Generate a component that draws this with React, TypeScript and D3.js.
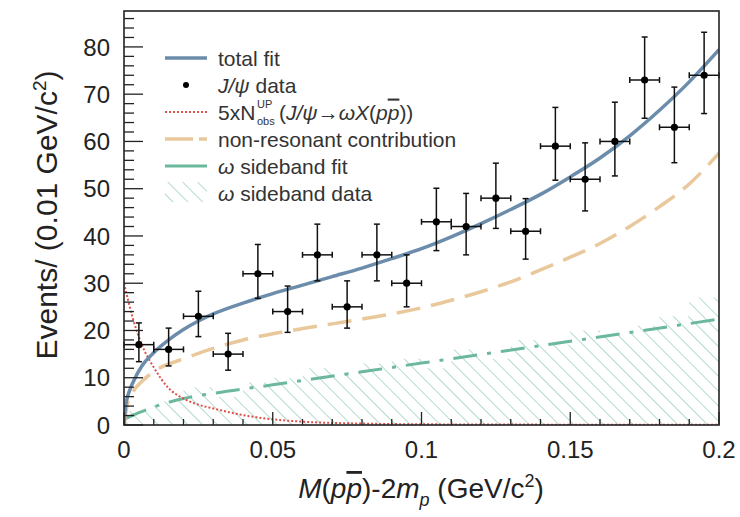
import React from "react";
import * as d3 from "d3";

// ---------- data ----------
const binCenters = [0.005, 0.015, 0.025, 0.035, 0.045, 0.055, 0.065, 0.075, 0.085, 0.095, 0.105, 0.115, 0.125, 0.135, 0.145, 0.155, 0.165, 0.175, 0.185, 0.195];
const binHalfWidth = 0.005;
const counts = [17, 16, 23, 15, 32, 24, 36, 25, 36, 30, 43, 42, 48, 41, 59, 52, 60, 73, 63, 74];
const errUp = [4.6, 4.5, 5.3, 4.4, 6.2, 5.4, 6.5, 5.5, 6.5, 6.0, 7.1, 7.0, 7.4, 6.9, 8.2, 7.7, 8.3, 9.1, 8.5, 9.1];
const errDown = [3.6, 3.5, 4.3, 3.4, 5.2, 4.4, 5.5, 4.5, 5.5, 5.0, 6.1, 6.0, 6.4, 5.9, 7.2, 6.7, 7.3, 8.1, 7.5, 8.1];
const sidebandCounts = [3, 5, 8, 6, 9, 10, 12, 11, 13, 14, 12, 16, 14, 18, 17, 20, 19, 21, 23, 27];

const totalFitX = [0, 0.0005, 0.001, 0.002, 0.003, 0.006, 0.01, 0.015, 0.02, 0.025, 0.03, 0.04, 0.05, 0.06, 0.07, 0.08, 0.09, 0.1, 0.11, 0.12, 0.13, 0.14, 0.15, 0.16, 0.17, 0.18, 0.19, 0.2];
const totalFitY = [0, 3.8, 5.5, 7.5, 9, 12.5, 15.3, 18, 20.2, 22, 23.5, 25.8, 27.8, 29.6, 31.4, 33.2, 35.2, 37.3, 39.8, 42.6, 45.6, 48.8, 52.5, 56.5, 61.2, 66.6, 72.6, 79.4];

const nonResX = [0, 0.001, 0.003, 0.006, 0.01, 0.02, 0.03, 0.04, 0.05, 0.06, 0.07, 0.08, 0.09, 0.1, 0.11, 0.12, 0.13, 0.14, 0.15, 0.16, 0.17, 0.18, 0.19, 0.2];
const nonResY = [0, 4, 7, 9.2, 11.3, 14, 16.2, 18, 19.3, 20.4, 21.4, 22.4, 23.5, 24.8, 26.4, 28.2, 30.3, 32.8, 35.5, 38.4, 42, 46.2, 51, 57.5];

const upperLimitX = [0, 0.003, 0.006, 0.01, 0.015, 0.02, 0.025, 0.03, 0.04, 0.05, 0.06, 0.08, 0.1, 0.15, 0.2];
const upperLimitY = [30, 22.5, 17, 12.2, 7.8, 5.6, 4.3, 3.5, 2.1, 1.2, 0.7, 0.3, 0.15, 0.07, 0.05];

const sidebandFitX = [0, 0.005, 0.01, 0.02, 0.03, 0.05, 0.1, 0.15, 0.2];
const sidebandFitY = [1.2, 2.6, 3.8, 5.6, 6.7, 8.5, 13.1, 17.7, 22.4];

const xTicksMajor = [0, 0.05, 0.1, 0.15, 0.2];
const xTickLabels = ["0", "0.05", "0.1", "0.15", "0.2"];
const yTicksMajor = [0, 10, 20, 30, 40, 50, 60, 70, 80];

// ---------- layout ----------
const W = 740;
const H = 517;
const L = 124, R = 719, T = 11, B = 425;

const COL_TOTAL = "#6b8cab";
const COL_NONRES = "#e9c89c";
const COL_UL = "#e0504a";
const COL_SB = "#6cb89c";
const COL_HATCH = "#94cdb6";
const FONT = "'Liberation Sans', Arial, Helvetica, sans-serif";

export default function App() {
  const x = d3.scaleLinear().domain([0, 0.2]).range([L, R]);
  const y = d3.scaleLinear().domain([0, 87.6]).range([B, T]);

  const line = d3
    .line<[number, number]>()
    .x((d) => x(d[0]))
    .y((d) => y(d[1]))
    .curve(d3.curveMonotoneX);

  const zip = (a: number[], b: number[]) => a.map((v, i) => [v, b[i]] as [number, number]);

  const totalPath = line(zip(totalFitX, totalFitY)) || "";
  const nonResPath = line(zip(nonResX, nonResY)) || "";
  const ulPath = line(zip(upperLimitX, upperLimitY)) || "";
  const sbPath = line(zip(sidebandFitX, sidebandFitY)) || "";

  // step histogram for sideband data
  let hist = `M${x(0)},${y(0)}`;
  binCenters.forEach((c, i) => {
    hist += `L${x(c - binHalfWidth)},${y(sidebandCounts[i])}L${x(c + binHalfWidth)},${y(sidebandCounts[i])}`;
  });
  hist += `L${x(0.2)},${y(0)}Z`;

  const yMinor = d3.range(0, 88, 2);
  const xMinor = d3.range(0, 0.2001, 0.01);

  const legendX0 = 165, legendX1 = 207, legendTextX = 218;
  const rowY = [58, 85, 112, 139, 166, 193];

  return (
    <svg
      width={W}
      height={H}
      viewBox={`0 0 ${W} ${H}`}
      style={{ position: "absolute", left: 0, top: 0, background: "#fff" }}
      fontFamily={FONT}
    >
      <defs>
        <pattern id="hatch" patternUnits="userSpaceOnUse" width={10.5} height={10.5} patternTransform="rotate(-45)">
          <line x1={0} y1={0} x2={0} y2={10.5} stroke={COL_HATCH} strokeWidth={1.4} />
        </pattern>
        <clipPath id="plotClip">
          <rect x={L} y={T} width={R - L} height={B - T} />
        </clipPath>
      </defs>
      <rect x={0} y={0} width={W} height={H} fill="#fff" />

      <g clipPath="url(#plotClip)">
        <path d={hist} fill="url(#hatch)" stroke="none" />
        <path d={sbPath} fill="none" stroke={COL_SB} strokeWidth={3} strokeDasharray="24 10 4 10" />
        <path d={ulPath} fill="none" stroke={COL_UL} strokeWidth={2} strokeDasharray="2 2" />
        <path d={nonResPath} fill="none" stroke={COL_NONRES} strokeWidth={3.5} strokeDasharray="24 11" />
        <path d={totalPath} fill="none" stroke={COL_TOTAL} strokeWidth={3.5} />
      </g>

      {/* data points */}
      <g stroke="#111" strokeWidth={1.5}>
        {binCenters.map((c, i) => {
          const cx = x(c);
          const cy = y(counts[i]);
          const yt = y(counts[i] + errUp[i]);
          const yb = y(counts[i] - errDown[i]);
          const xl = x(c - binHalfWidth);
          const xr = x(c + binHalfWidth);
          return (
            <g key={i}>
              <line x1={cx} y1={yt} x2={cx} y2={yb} />
              <line x1={cx - 3} y1={yt} x2={cx + 3} y2={yt} />
              <line x1={cx - 3} y1={yb} x2={cx + 3} y2={yb} />
              <line x1={xl} y1={cy} x2={xr} y2={cy} />
              <line x1={xl} y1={cy - 3} x2={xl} y2={cy + 3} />
              <line x1={xr} y1={cy - 3} x2={xr} y2={cy + 3} />
              <circle cx={cx} cy={cy} r={3.6} fill="#000" stroke="none" />
            </g>
          );
        })}
      </g>

      {/* frame */}
      <rect x={L} y={T} width={R - L} height={B - T} fill="none" stroke="#222" strokeWidth={1.6} />

      {/* ticks */}
      <g stroke="#222" strokeWidth={1.3}>
        {yMinor.map((v) => (
          <line key={"ym" + v} x1={L} x2={L + (v % 10 === 0 ? 19 : 10)} y1={y(v)} y2={y(v)} />
        ))}
        {xMinor.map((v, i) => (
          <line key={"xm" + i} x1={x(v)} x2={x(v)} y1={B} y2={B - (i % 5 === 0 ? 13 : 6)} />
        ))}
      </g>

      {/* tick labels */}
      <g fill="#222" fontSize={24}>
        {yTicksMajor.map((v) => (
          <text key={"yl" + v} x={110} y={y(v)} dy="0.36em" textAnchor="end">
            {v}
          </text>
        ))}
        {xTicksMajor.map((v, i) => (
          <text key={"xl" + v} x={x(v)} y={458} textAnchor="middle">
            {xTickLabels[i]}
          </text>
        ))}
      </g>

      {/* axis titles */}
      <text
        transform={`translate(57, 215) rotate(-90)`}
        textAnchor="middle"
        fontSize={30}
        fill="#222"
      >
        Events/ (0.01 GeV/c<tspan dy={-11} fontSize={19}>2</tspan>
        <tspan dy={11}>)</tspan>
      </text>

      <text x={421} y={498} textAnchor="middle" fontSize={28} fill="#222">
        <tspan fontStyle="italic">M</tspan>(<tspan fontStyle="italic">p</tspan>
        <tspan fontStyle="italic" style={{ textDecoration: "overline" }}>p</tspan>)-2
        <tspan fontStyle="italic">m</tspan>
        <tspan fontStyle="italic" fontSize={18} dy={8}>p</tspan>
        <tspan dy={-8}> (GeV/c</tspan>
        <tspan fontSize={18} dy={-11}>2</tspan>
        <tspan dy={11}>)</tspan>
      </text>

      {/* legend */}
      <g>
        <line x1={legendX0} x2={legendX1} y1={rowY[0]} y2={rowY[0]} stroke={COL_TOTAL} strokeWidth={3.5} />
        <circle cx={(legendX0 + legendX1) / 2} cy={rowY[1]} r={3} fill="#000" />
        <line x1={legendX0} x2={legendX1} y1={rowY[2]} y2={rowY[2]} stroke={COL_UL} strokeWidth={2} strokeDasharray="2 2" />
        <line x1={legendX0} x2={legendX1} y1={rowY[3]} y2={rowY[3]} stroke={COL_NONRES} strokeWidth={3.5} strokeDasharray="28 6" />
        <line x1={legendX0} x2={legendX1} y1={rowY[4]} y2={rowY[4]} stroke={COL_SB} strokeWidth={3} />
        <rect x={legendX0} y={rowY[5] - 11} width={legendX1 - legendX0} height={20} fill="url(#hatch)" />
      </g>
      <g fill="#333" fontSize={21}>
        <text x={legendTextX} y={rowY[0]} dy="0.36em">total fit</text>
        <text x={legendTextX} y={rowY[1]} dy="0.36em">
          <tspan fontStyle="italic">J/ψ</tspan> data
        </text>
        <text x={legendTextX} y={rowY[2]} dy="0.36em">5xN</text>
        <text x={257} y={rowY[2] - 4} fontSize={11}>UP</text>
        <text x={257} y={rowY[2] + 13} fontSize={11}>obs</text>
        <text x={279} y={rowY[2]} dy="0.36em">
          (<tspan fontStyle="italic">J/ψ</tspan>→<tspan fontStyle="italic">ωX</tspan>(<tspan fontStyle="italic">p</tspan>
          <tspan fontStyle="italic" style={{ textDecoration: "overline" }}>p</tspan>))
        </text>
        <text x={legendTextX} y={rowY[3]} dy="0.36em">non-resonant contribution</text>
        <text x={legendTextX} y={rowY[4]} dy="0.36em">
          <tspan fontStyle="italic">ω</tspan> sideband fit
        </text>
        <text x={legendTextX} y={rowY[5]} dy="0.36em">
          <tspan fontStyle="italic">ω</tspan> sideband data
        </text>
      </g>
    </svg>
  );
}
